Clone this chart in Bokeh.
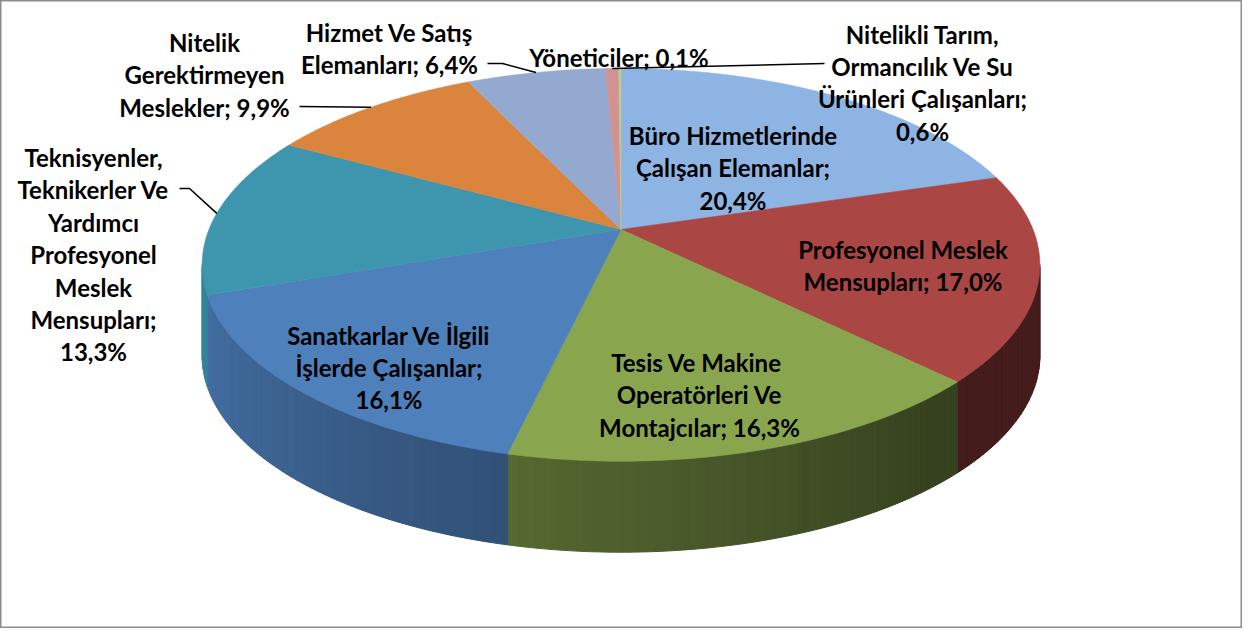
import numpy as np
from bokeh.plotting import figure
from bokeh.models import Range1d
from bokeh.core.properties import value
from bokeh.embed import file_html
from bokeh.resources import INLINE

# ---------------- data (clockwise from 12 o'clock) ----------------
categories = [
    "Büro Hizmetlerinde Çalışan Elemanlar",
    "Profesyonel Meslek Mensupları",
    "Tesis Ve Makine Operatörleri Ve Montajcılar",
    "Sanatkarlar Ve İlgili İşlerde Çalışanlar",
    "Teknisyenler, Teknikerler Ve Yardımcı Profesyonel Meslek Mensupları",
    "Nitelik Gerektirmeyen Meslekler",
    "Hizmet Ve Satış Elemanları",
    "Nitelikli Tarım, Ormancılık Ve Su Ürünleri Çalışanları",
    "Yöneticiler",
]
values = [20.4, 17.0, 16.3, 16.1, 13.3, 9.9, 6.4, 0.6, 0.1]
# wrapped label text as shown on the chart ({v} = value)
label_templates = [
    "Büro Hizmetlerinde\nÇalışan Elemanlar;\n{v}",
    "Profesyonel Meslek\nMensupları; {v}",
    "Tesis Ve  Makine\nOperatörleri Ve\nMontajcılar; {v}",
    "Sanatkarlar Ve İlgili\nİşlerde Çalışanlar;\n{v}",
    "Teknisyenler,\nTeknikerler Ve\nYardımcı\nProfesyonel\nMeslek\nMensupları;\n{v}",
    "Nitelik\nGerektirmeyen\nMeslekler; {v}",
    "Hizmet Ve Satış\nElemanları; {v}",
    "Nitelikli Tarım,\nOrmancılık Ve Su\nÜrünleri Çalışanları;\n{v}",
    "Yöneticiler; {v}",
]

# ---------------- styling / layout ----------------
colors = ["#8EB4E3", "#AA4644", "#89A54E", "#4E80BC", "#3D96AE",
          "#DB843D", "#93A9CF", "#D19291", "#B9CD96"]
label_pos = [(740.5, 143), (910.5, 257), (707, 370), (396.5, 342.5),
             (101, 165), (212, 50), (397, 40), (930, 41.5), (626.5, 65)]
# leader line start points (near the label), None = no leader
leader_start = [None, None, None, None,
                [(187, 196), (197, 196)],
                [(307, 114)],
                [(495, 71), (510, 71)],
                [(832, 71)],
                None]
LINE_H = 32.4
FONT = "Lato"
FSIZE = "24px"

CX, CY = 628.5, 237.0
RX, A, B = 412.0, 190.0, 0.18
DEPTH = 91.0


def proj(theta_deg):
    t = np.radians(theta_deg)
    u = np.sin(t)
    v = -np.cos(t)
    den = 1.0 - B * v
    return CX + RX * u / den, CY + A * v / den


def hex2rgb(h):
    h = h.lstrip("#")
    return tuple(int(h[i:i + 2], 16) for i in (0, 2, 4))


def shade(h, f):
    r, g, b = hex2rgb(h)
    return "#%02x%02x%02x" % (int(min(255, r * f)), int(min(255, g * f)), int(min(255, b * f)))


vals = np.array(values, dtype=float)
frac = vals / vals.sum()
bounds = np.concatenate([[0.0], np.cumsum(frac) * 360.0])

p = figure(width=1242, height=628, output_backend="svg", toolbar_location=None,
           x_range=Range1d(8, 1250), y_range=Range1d(636, 8),
           min_border=0, background_fill_color="white", border_fill_color="white")
p.axis.visible = False
p.grid.visible = False
p.outline_line_color = "#8c8c8c"
p.outline_line_width = 2

# ---------------- side walls ----------------
th_vis0 = np.degrees(np.arccos(-B))
th_vis1 = 360.0 - th_vis0
side_xs, side_ys, side_cols = [], [], []
for i in range(len(vals)):
    a0 = max(bounds[i], th_vis0)
    a1 = min(bounds[i + 1], th_vis1)
    if a1 <= a0:
        continue
    n = max(2, int(np.ceil((a1 - a0) / 1.0)) + 1)
    ts = np.linspace(a0, a1, n)
    for k in range(n - 1):
        x0, y0 = proj(ts[k])
        x1, y1 = proj(ts[k + 1])
        tm = 0.5 * (ts[k] + ts[k + 1])
        f = np.interp(tm, [100, 140, 190, 260], [0.40, 0.40, 0.62, 0.90])
        side_xs.append([x0, x1, x1, x0])
        side_ys.append([y0, y1, y1 + DEPTH, y0 + DEPTH])
        side_cols.append(shade(colors[i], f))
p.patches(side_xs, side_ys, fill_color=side_cols, line_color=side_cols, line_width=1)

# ---------------- top face ----------------
top_xs, top_ys = [], []
for i in range(len(vals)):
    n = max(3, int(np.ceil((bounds[i + 1] - bounds[i]) / 0.5)) + 1)
    ts = np.linspace(bounds[i], bounds[i + 1], n)
    xs, ys = proj(ts)
    top_xs.append([CX] + list(xs))
    top_ys.append([CY] + list(ys))
p.patches(top_xs, top_ys, fill_color=colors, line_color=colors, line_width=0.6)

# ---------------- leader lines ----------------
for i in range(len(vals)):
    if leader_start[i] is None:
        continue
    mid = 0.5 * (bounds[i] + bounds[i + 1])
    ex, ey = proj(mid)
    pts = leader_start[i] + [(ex, ey)]
    p.line([q[0] for q in pts], [q[1] for q in pts], line_color="black", line_width=1.6)

# ---------------- labels ----------------
tx, ty, tt = [], [], []
for i in range(len(vals)):
    vtxt = ("%.1f%%" % values[i]).replace(".", ",")
    lines = label_templates[i].format(v=vtxt).split("\n")
    x0, y0 = label_pos[i]
    for k, ln in enumerate(lines):
        tx.append(x0)
        ty.append(y0 + k * LINE_H)
        tt.append(ln)
p.text(tx, ty, text=tt, text_align="center", text_baseline="alphabetic",
       text_font=value(FONT), text_font_style="bold", text_font_size=FSIZE,
       text_color="black")

open("out.html", "w").write(file_html(p, INLINE))
